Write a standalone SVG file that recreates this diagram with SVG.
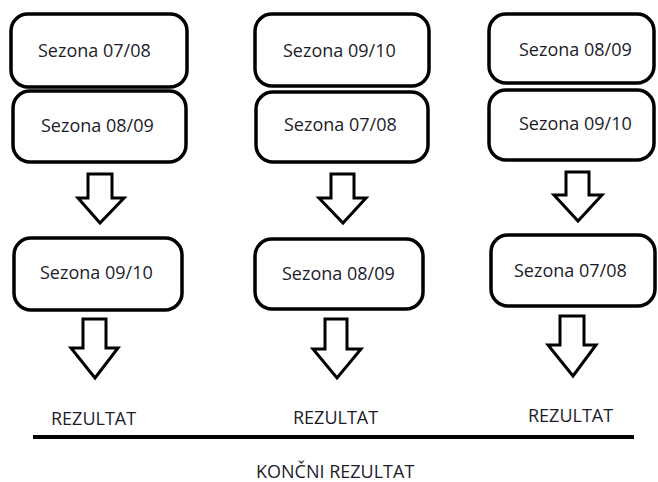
<svg xmlns="http://www.w3.org/2000/svg" width="658" height="482" viewBox="0 0 658 482">
<style>
.box{fill:#fff;stroke:#000;stroke-width:3.5}
.arr{fill:#fff;stroke:#000;stroke-width:3;stroke-linejoin:miter}
.t{font-family:"Open Sans","Liberation Sans",sans-serif;font-size:18px;fill:#1c1c2a}
</style>
<rect width="658" height="482" fill="#fff"/>
<g id="connectors">
<path class="arr" d="M88,174 H112 V198 H124 L100,223 L78,198 H88 Z"/>
<path class="arr" d="M331,174 H354 V198 H366 L343,223 L319,198 H331 Z"/>
<path class="arr" d="M566,172 H589 V195 H602 L578,221 L554,195 H566 Z"/>
<path class="arr" d="M83,319 H106 V348 H118 L95,378 L71,348 H83 Z"/>
<path class="arr" d="M325,319 H347 V349 H361 L337,378 L313,349 H325 Z"/>
<path class="arr" d="M560,316 H584 V345 H596 L573,376 L548,345 H560 Z"/>
<line x1="33" y1="437" x2="634" y2="437" stroke="#000" stroke-width="4"/>
</g>
<g id="c1_s1"><rect class="box" x="11" y="14" width="176" height="73" rx="17"/><text class="t" x="38" y="57">Sezona 07/08</text></g>
<g id="c1_s2"><rect class="box" x="13" y="91" width="173" height="71" rx="17"/><text class="t" x="41" y="132">Sezona 08/09</text></g>
<g id="c1_s3"><rect class="box" x="14" y="238" width="168" height="72" rx="17"/><text class="t" x="40" y="279">Sezona 09/10</text></g>
<g id="c2_s1"><rect class="box" x="255" y="14" width="174" height="72" rx="17"/><text class="t" x="283" y="57">Sezona 09/10</text></g>
<g id="c2_s2"><rect class="box" x="256" y="92" width="172" height="70" rx="17"/><text class="t" x="284" y="131">Sezona 07/08</text></g>
<g id="c2_s3"><rect class="box" x="255" y="239" width="168" height="70" rx="17"/><text class="t" x="282" y="280">Sezona 08/09</text></g>
<g id="c3_s1"><rect class="box" x="489" y="14" width="165" height="69" rx="17"/><text class="t" x="519" y="56">Sezona 08/09</text></g>
<g id="c3_s2"><rect class="box" x="489" y="90" width="165" height="70" rx="17"/><text class="t" x="519" y="130">Sezona 09/10</text></g>
<g id="c3_s3"><rect class="box" x="491" y="235" width="164" height="71" rx="17"/><text class="t" x="514" y="277">Sezona 07/08</text></g>
<g id="r1"><text class="t" x="51" y="425">REZULTAT</text></g>
<g id="r2"><text class="t" x="293" y="424">REZULTAT</text></g>
<g id="r3"><text class="t" x="528" y="422">REZULTAT</text></g>
<g id="final"><text class="t" x="256" y="478">KONČNI REZULTAT</text></g>
</svg>
